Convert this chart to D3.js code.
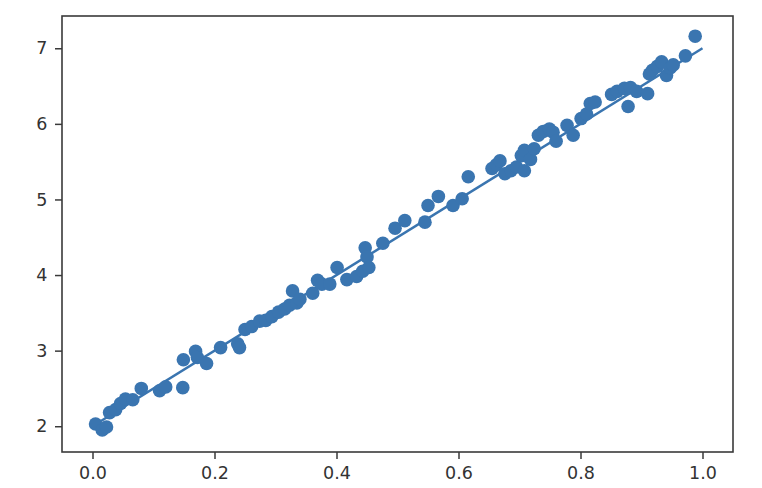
<!DOCTYPE html>
<html>
<head>
<meta charset="utf-8">
<script src="https://cdn.jsdelivr.net/npm/d3@7"></script>
<style>
  body { margin: 0; background: #fff; }
  text { font-family: "DejaVu Sans", sans-serif; }
</style>
</head>
<body>
<script>
// scatter points
const xValues = [0.005, 0.016, 0.023, 0.028, 0.038, 0.046, 0.054, 0.066, 0.080, 0.110,
  0.120, 0.148, 0.149, 0.169, 0.172, 0.187, 0.210, 0.238, 0.241, 0.250,
  0.261, 0.274, 0.284, 0.294, 0.305, 0.315, 0.323, 0.328, 0.335, 0.340,
  0.361, 0.369, 0.376, 0.389, 0.401, 0.417, 0.433, 0.443, 0.447, 0.450,
  0.453, 0.476, 0.496, 0.512, 0.545, 0.550, 0.567, 0.591, 0.606, 0.616,
  0.655, 0.662, 0.668, 0.676, 0.686, 0.695, 0.703, 0.708, 0.708, 0.718,
  0.724, 0.731, 0.739, 0.749, 0.755, 0.760, 0.778, 0.788, 0.801, 0.810,
  0.816, 0.824, 0.851, 0.860, 0.872, 0.882, 0.878, 0.892, 0.910, 0.913,
  0.918, 0.926, 0.933, 0.941, 0.947, 0.952, 0.972, 0.988]
const yValues = [2.03, 1.95, 1.99, 2.18, 2.22, 2.30, 2.36, 2.35, 2.50, 2.47,
  2.52, 2.51, 2.88, 2.99, 2.91, 2.83, 3.04, 3.09, 3.04, 3.28,
  3.32, 3.39, 3.40, 3.45, 3.51, 3.55, 3.60, 3.79, 3.63, 3.68,
  3.76, 3.93, 3.88, 3.88, 4.10, 3.94, 3.98, 4.05, 4.36, 4.24,
  4.10, 4.42, 4.62, 4.72, 4.70, 4.92, 5.04, 4.92, 5.01, 5.30,
  5.41, 5.46, 5.51, 5.34, 5.38, 5.43, 5.58, 5.65, 5.38, 5.53,
  5.67, 5.85, 5.90, 5.93, 5.89, 5.77, 5.98, 5.85, 6.07, 6.13,
  6.27, 6.29, 6.39, 6.43, 6.47, 6.48, 6.23, 6.43, 6.40, 6.66,
  6.71, 6.76, 6.82, 6.64, 6.74, 6.78, 6.90, 7.16]

// fitted line
const lineX = [0, 1]
const lineY = [2, 7]

const xTicks = [0.0, 0.2, 0.4, 0.6, 0.8, 1.0]
const yTicks = [2, 3, 4, 5, 6, 7]

const width = 762
const height = 488
const plotLeft = 62, plotRight = 733, plotTop = 16, plotBottom = 452
const blue = '#3a75b0'

const xScale = d3.scaleLinear()
                  .domain([-0.05, 1.05])
                  .range([plotLeft, plotRight])

const yScale = d3.scaleLinear()
                  .domain([1.659, 7.427])
                  .range([plotBottom, plotTop])

let svg = d3.select('body')
              .append('svg')
                .attr('width', width)
                .attr('height', height)

// line under the dots
const points = lineX.map((x, i) => [x, lineY[i]])
svg.append('path')
    .datum(points)
    .attr('fill', 'none')
    .attr('stroke', blue)
    .attr('stroke-width', 2.5)
    .attr('d', d3.line().x(d => xScale(d[0])).y(d => yScale(d[1])))

svg.append('g')
    .selectAll('circle')
    .data(xValues.map((x, i) => [x, yValues[i]]))
    .enter()
      .append('circle')
        .attr('cx', d => xScale(d[0]))
        .attr('cy', d => yScale(d[1]))
        .attr('r', 6.8)
        .attr('fill', blue)

// axes
let xAxis = svg.append('g')
    .attr('transform', `translate(0, ${plotBottom})`)
    .call(d3.axisBottom(xScale).tickValues(xTicks).tickFormat(d3.format('.1f')).tickSize(7).tickPadding(8))
let yAxis = svg.append('g')
    .attr('transform', `translate(${plotLeft}, 0)`)
    .call(d3.axisLeft(yScale).tickValues(yTicks).tickFormat(d3.format('d')).tickSize(7).tickPadding(7.5))

for (const ax of [xAxis, yAxis]) {
    ax.select('.domain').remove()
    ax.selectAll('line').attr('stroke', '#3a3a3a').attr('stroke-width', 1.5)
    ax.selectAll('text').attr('fill', '#333').style('font-size', '17.5px').style('font-family', 'DejaVu Sans')
}

// frame
svg.append('rect')
    .attr('x', plotLeft)
    .attr('y', plotTop)
    .attr('width', plotRight - plotLeft)
    .attr('height', plotBottom - plotTop)
    .attr('fill', 'none')
    .attr('stroke', '#3a3a3a')
    .attr('stroke-width', 1.6)
</script>
</body>
</html>
